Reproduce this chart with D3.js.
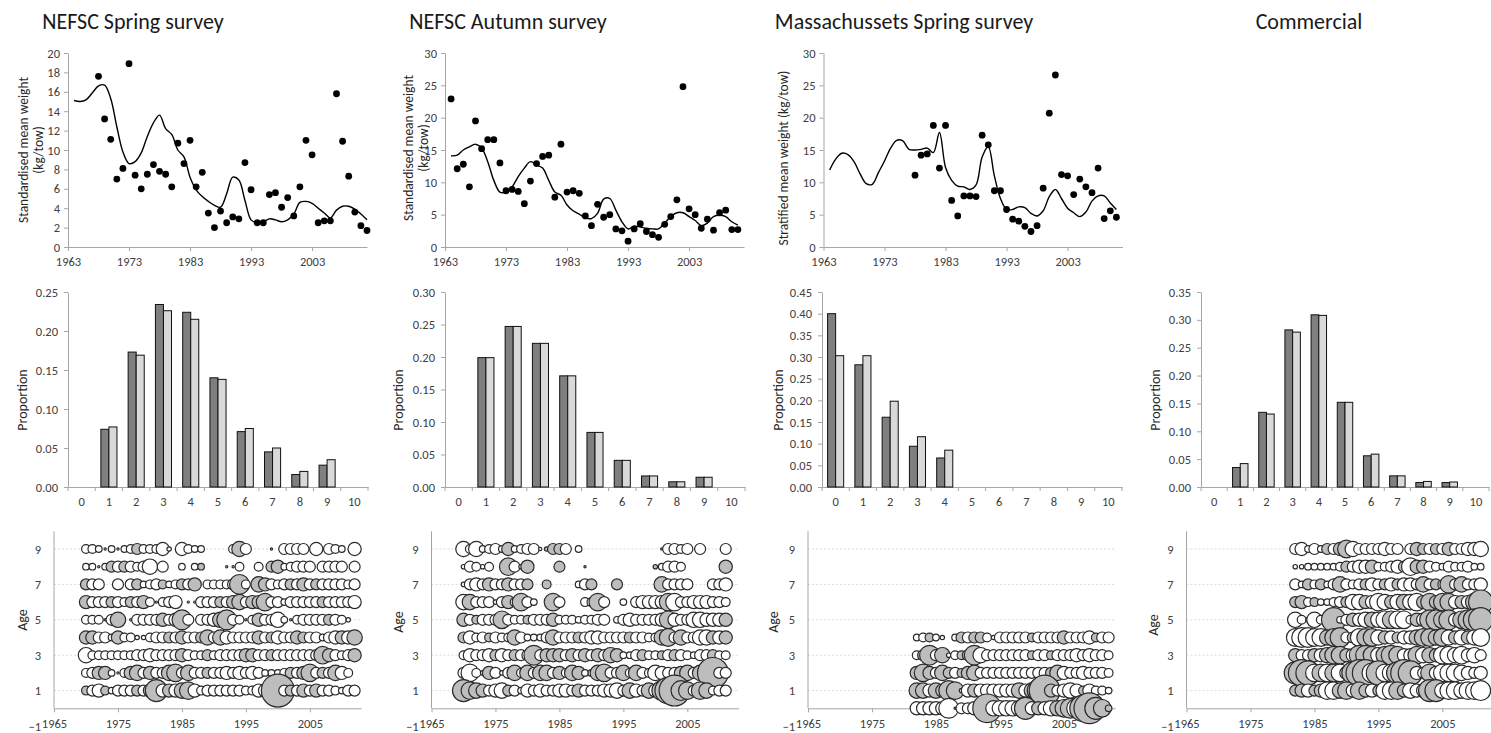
<!DOCTYPE html>
<html><head><meta charset="utf-8">
<script src="https://cdn.jsdelivr.net/npm/d3@7"></script>
<style>body{margin:0;background:#fff}svg text{font-family:Carlito,Lato,'Open Sans',sans-serif}</style>
</head><body><svg id="c" width="1491" height="733"></svg>
<script>
// ---------------- DATA ----------------
const titles = ["NEFSC Spring survey","NEFSC Autumn survey","Massachussets Spring survey","Commercial"];
const topYearTicks = [1963,1973,1983,1993,2003];
const bubbleYearTicks = [1965,1975,1985,1995,2005];
const ageTicks = [-1,1,3,5,7,9];
const barAges = [0,1,2,3,4,5,6,7,8,9,10];

// Top row: survey index points and smoothed line
const springDotStart = 1968;
const springDots = [17.6,13.2,11.1,7.0,8.1,18.9,7.4,6.0,7.5,8.5,7.8,7.5,6.2,10.7,8.6,11.0,6.2,7.7,3.5,2.0,3.7,2.5,3.1,2.9,8.7,5.9,2.5,2.5,5.4,5.6,4.1,5.1,3.2,6.2,11.0,9.5,2.5,2.7,2.7,15.8,10.9,7.3,3.6,2.2,1.7];
const springLineStart = 1964;
const springLine = [15.1,15.0,15.2,15.9,16.6,16.7,15.3,12.4,9.8,8.6,8.8,9.7,11.4,12.8,13.6,12.2,11.6,10.0,9.3,7.2,5.9,5.2,4.7,4.3,4.1,5.5,7.2,6.9,4.8,2.8,2.5,2.6,2.9,2.8,2.6,2.8,3.4,4.6,4.7,4.5,4.0,3.5,3.0,3.8,4.2,4.2,3.9,3.4,2.8];

const autumnDotStart = 1964;
const autumnDots = [22.9,12.1,12.8,9.3,19.5,15.2,16.6,16.6,13.0,8.7,8.9,8.6,6.7,10.2,12.9,14.0,14.2,7.7,15.9,8.5,8.7,8.3,4.8,3.3,6.6,4.6,5.0,2.8,2.5,0.9,2.8,3.6,2.4,1.9,1.5,3.5,4.7,7.3,24.8,5.9,5.0,2.9,4.3,2.6,5.3,5.7,2.7,2.7];
const autumnLineStart = 1964;
const autumnLine = [14.1,14.2,15.0,15.5,15.9,15.3,13.2,10.3,8.5,8.5,9.3,10.9,12.2,13.2,12.7,12.2,10.3,8.5,8.0,6.5,5.6,5.1,4.5,4.4,5.2,7.4,7.5,5.7,3.9,2.8,3.2,3.1,2.9,2.8,2.8,3.7,4.7,5.3,5.3,4.7,4.1,3.3,3.7,4.7,4.9,4.7,3.9,3.4];

const massDotStart = 1978;
const massDots = [11.1,14.2,14.4,18.8,12.2,18.8,7.2,4.8,7.9,7.9,7.8,17.3,15.8,8.7,8.7,5.8,4.3,4.0,3.2,2.4,3.3,9.1,20.7,26.6,11.2,11.0,8.1,10.5,9.3,8.4,12.2,4.4,5.6,4.6];
const massLineStart = 1964;
const massLine = [11.9,13.6,14.5,14.3,13.2,11.3,9.8,9.7,11.5,13.3,15.3,16.5,16.4,15.1,15.0,15.1,15.3,14.6,17.7,12.3,10.3,9.4,9.3,8.9,9.6,13.9,15.5,11.0,7.5,5.8,5.8,6.2,6.1,5.2,4.8,5.6,7.8,8.9,7.5,6.0,5.3,4.7,5.4,7.1,7.9,7.9,6.8,5.8];

// Middle row: proportions at age (observed = dark, predicted = light)
const springObs  = [0,0.074,0.173,0.234,0.224,0.140,0.071,0.045,0.016,0.028,0];
const springPred = [0,0.077,0.169,0.226,0.215,0.138,0.075,0.050,0.020,0.035,0];
const autumnObs  = [0,0.199,0.247,0.221,0.171,0.084,0.041,0.017,0.008,0.015,0];
const autumnPred = [0,0.199,0.247,0.221,0.171,0.084,0.041,0.017,0.008,0.015,0];
const massObs    = [0.400,0.282,0.161,0.094,0.067,0,0,0,0,0,0];
const massPred   = [0.303,0.303,0.198,0.116,0.085,0,0,0,0,0,0];
const commObs    = [0,0.035,0.134,0.282,0.309,0.152,0.056,0.020,0.008,0.008,0];
const commPred   = [0,0.042,0.131,0.278,0.308,0.152,0.059,0.020,0.010,0.009,0];

// Bottom row: residuals by age (rows) and year (columns); + grey, - white
const springResidStart = 1970; // ages 1..9
const springResid = [
 [0.8,-1,-1.2,0.8,-0.6,-1,-1,-1,1,-1,1.2,2,-1.2,1.2,-1.2,1.4,1.6,-1.2,-0.8,-1,-1,-1,-1,-1,-1,-0.8,-0.8,-1.2,-1.2,-1.4,3,-1,1,-1,1.2,-1,1.2,-1,-1,-0.8,-0.6,-1,-1],
 [-0.8,-1,1.2,1.2,-0.6,-0.2,-0.8,1.2,1.4,-1,1.2,-1,-1,1.4,1.6,-1,1.4,-1,-1,1,-1,-1,-1.2,-1,-1.2,-1,-1.2,-1,-0.6,-0.6,-0.6,-0.8,1,-1,1.2,1.6,-1,1,-1,1.4,-1.2,-0.8,0],
 [-1.4,-0.8,-0.8,-0.8,-0.8,-0.8,-0.8,-0.8,-1,-1,-1.2,-1,-1,-1,-1,1.2,-1,-0.8,-0.8,1,-0.8,-1,-1,-1,-1,1.2,1.2,-1,-1,1,-1,-1,-1,-1,-1,-1,-1,1.6,1.2,-1,-0.8,-1,1.2],
 [1.2,1.2,-1,-1,-0.6,1.2,-0.8,-0.8,-0.4,-0.4,-0.8,-1,-1,1,-1,1.2,-1,-1,1,1.4,-1,1.4,-1.2,-1,-1,-1,-1,1.2,-1,1,-1.2,-1,-1,1.2,1,-1,-1,-0.6,-1,-1.2,1.2,-1.2,1.4],
 [-0.8,-0.8,-0.8,-0.2,-1,1.4,0,-0.2,-1,-1,-1,-1,1.2,-1,-1.2,1.8,-1,0,-1,-1,-1.2,1.4,1.8,-1,-0.8,-0.2,-0.8,1.2,-1,-1,-1.4,-0.6,-0.2,-0.8,-1,-1,-1,-1,1,-1,-0.8,-0.4,0],
 [1.2,-1,-1,-1,1,-1,-0.8,1,-1,1.2,-0.8,-0.2,-0.8,-1,-1.2,0,-0.2,-0.2,-1,-1,-1,1,-1,1.2,1.4,-1,1.2,1.2,1.6,-1,-1,-0.6,-1,-1,-1,-1,-1,1,-1,-1,-1,-1,-1.2],
 [1,-1,-1,0,0,-1,0,-1,1,-0.6,-0.8,-1,0.8,-0.6,-0.8,1,-1,1.2,0,-0.8,-0.8,-0.8,-0.8,-1,1.8,-0.8,0,1.4,1.2,-1,-0.8,-1,1,-1,1.2,-1,1,-1,-1,-1,-1,-0.8,-1],
 [-0.6,-0.6,-0.2,-0.6,1,-1,1,-1,-0.8,-1,-1.4,0,-1,0,0,-0.6,0,-0.6,0.6,0,0,0,-0.2,-0.2,-0.8,0,0,-0.8,0,1,1.2,-0.6,-0.8,-1,-1,-1,0,-1,-1,-1,-1,0,-1],
 [-0.8,-0.8,-0.6,-0.2,-0.6,-0.2,-0.6,-0.8,1,-0.8,-0.8,-0.8,-1.2,-0.4,0,-1.2,-0.8,-0.6,-0.6,0,0,0,0,-0.8,1.4,-1,0,0,0,0.2,0,-1,-1,-1,-1,0,-1.2,0,-1,-0.8,-0.6,0,-1.2]
];
const autumnResidStart = 1970; // ages 1..9
const autumnResid = [
 [2,1.6,1.4,1.2,-1,-1.2,-1.4,1,-1,-0.6,-1.2,-1,-1.2,-1,-1,-1.2,-1.2,-1,1.2,-1,-1,-1,-1.2,-1.2,-1.4,-1,1.4,-1.2,-1,1.4,-1.2,1.8,2.4,2.8,1.8,1.6,-1,1.6,1.4,-0.8,-1,-1],
 [-1,-1.6,-0.8,-0.4,1.2,-1,-0.4,-1,1.4,-0.8,1.4,-1,1.4,1.4,-1,1.2,-0.8,1.4,1.2,-0.6,-0.6,1.4,1.6,-1,-1,1.4,-0.8,1.4,-1,-0.8,-1.4,-1.2,-1,-1,1.2,1.4,-1,1.4,-1.2,2.8,-1,-1],
 [-0.8,-1.2,-1,-1,-1.2,1,-1.2,-1,1,-1,-1,1.8,-1,1.2,1.2,1.2,-1,1.2,-1,1.2,-1,1.2,-1,1.4,1.2,-0.6,-0.6,-1,1,-0.8,-0.8,0.8,-1,1,-1,-0.8,-0.6,-1,-1,1,-0.8,-0.8],
 [1,-1.2,-0.8,-1,0.8,-1,-0.8,-0.8,1.4,-1,-0.6,-0.6,-0.6,-1,1.4,-1,-1,-1,1,-1,-1.2,-1.2,-1,-1,-1,-1,1,-1,-1,-0.8,-0.8,1.4,1.6,-1,1.4,-1,-1,-1.4,-1.4,1.2,-1.2,1.2],
 [1.2,-1,0.8,-1,-1,-1,1.6,-1,-0.8,-0.8,0.8,-1,-1,-1,1.2,-0.8,-0.8,-0.8,-0.6,-0.8,-0.8,-1,-1,0,-0.6,-1,-1.2,-1,-1,-1,-1,-1.2,1.6,-1.2,-1,-1,-1.4,-1.4,-1.2,-1.2,-1.2,1.2],
 [-1.4,1.4,-1,-1,-1,-0.4,-1,1.2,-0.8,1.6,-1,-0.6,0,0,1.6,-1,0,0,0,-0.8,-0.8,1.6,-1,0,0,-0.6,0,-1,-1.2,-1.2,-1.2,-1.2,1.6,-1.6,-1,-1,-1.2,-1.2,-1.2,-1,-1,-0.8],
 [-0.4,-1,-1.2,-1,1.2,-1,-1,1.2,-1,-1,1,0,0,0.8,0,0,0,0,-0.6,-1,1,0,0,0,1,0,0,0,0,0,0,1.4,-1,-1,-1,-1,0,0,0,-1,-1,-1.2],
 [-0.4,-1,-0.8,-0.4,-0.8,0,0,1.6,-1,-0.4,1.2,0,0,0,0,1,0,0,0,0.2,0,0,0,0,0,0,0,0,0,0,0.4,-0.6,-1,-1,-0.8,0,0,0,0,0,0,1.2],
 [-1.4,-0.8,-1.4,-0.6,-0.8,-1,-0.6,1.2,-0.6,-0.8,-1,-1,-0.3,0.4,1,1,-1,0,-0.6,0,0,0,0,0,0,0,0,0,0,0,0,0.2,-1,-1,-0.8,-1,0,-1,0,0,0,-1]
];
const massResidStart = 1982; // ages 0..4
const massResid = [
 [-1.2,-1.2,-1.2,-1.2,-1.2,-1.8,0.2,-1,-1,-1.2,-1.2,2.6,-1.4,-1.4,-1.4,-1.4,-1.4,2,-1.2,1.2,-1.2,-1.4,1.4,1.6,1.8,-1.8,2.4,2.8,2,1.6,0.6],
 [1.4,1.4,-1.2,1.4,1.2,1.8,1.6,-0.4,-1.2,1.2,-1.2,-1.2,-1.2,-1.2,-1.2,-1.2,1.4,-1.2,1.4,2,2.8,1.2,-1,-1.2,-1.4,-1.2,0.8,-1.2,-0.8,-0.8,-0.6],
 [1.2,1.6,1.2,-1,1.4,1,-1,0.8,1.2,1.4,-1,-1,-1,-1,-1,-1,-1,-1,-1,-1,-1,1,1.4,-1.2,-1,-1,-1.2,-1,-1,-1,-0.8],
 [-0.8,1,1.8,-1,1.4,-0.4,-0.8,0.8,1,1.8,-1.4,-1,-1,-1,-1,-1,-1,-1,0.8,-1,-1,0.8,-1,-1,-1,-1.2,-1,-1.2,-1,-1,-0.8],
 [-0.6,-0.8,0.8,-0.6,-0.4,0,-0.6,1,-1,1,1,-0.8,-0.4,-1,-1,-1,-1,-1,0.8,-1,-1,-1,-1,1.2,-1,-1,-1,-1.2,0.8,-1,-1]
];
const commResidStart = 1982; // ages 1..9
const commResid = [
 [1,1.2,-1.2,1,1.2,-1.6,-1.6,1.4,1.6,-1.2,1.6,1.2,-1.2,1,-1.6,-1.6,1.6,1.2,-1.4,-1.2,-1.2,2,2,-1.4,-1.6,-1.6,-1.4,-1.6,-1.6,-1.8],
 [2,2.4,2.2,-1.6,1.6,-1.6,1.6,-1.6,-1.2,2,2.4,2.4,-1.8,2.2,-1.6,-1.6,2,2.4,2.2,-1.2,-1,1.6,-1.2,-1.6,-1.6,-1.6,-1.4,-1.2,-1,-1.2],
 [1.2,-1,-1,1.2,-1.2,1.4,1.6,1.6,1.2,-1.2,1.8,1.8,1.6,-1.4,1.6,1.8,1.6,-1.2,-1.2,1.6,-1.4,1.4,1.2,-1.6,-1.6,-1.4,-1.6,-1.2,-1.4,-1],
 [-1.6,-1.8,-1.8,-1.6,-1.6,1.4,1.6,1.8,-1,1,-1.6,1.6,1.6,-1.4,1.2,-1.2,1,-1.2,-1.2,1.4,1.6,1.6,1.4,1.6,-1.4,1.2,-1.4,1.2,-1.4,-1.6],
 [-1.4,-0.8,-0.4,-1.4,-0.8,0,2.2,-0.6,-1,1.2,-1.2,-1.4,1.4,-1.4,-1.6,1.6,-1.6,-1.6,-0.8,1.2,-1.2,1.8,1.8,1.6,1.8,-1.2,1.6,1.8,2,2.2],
 [1,1.2,-0.8,0.8,-0.6,-0.6,-0.8,-1,1,-1.4,-1.4,1.2,-1.2,-1.6,-1.4,1.2,-1.4,1.4,-1.4,-1.6,1.2,1.6,1.2,1.6,1.6,-1.2,1.2,-1.2,1.6,2.2],
 [-1,-0.6,1,-0.8,1,-0.6,-1,1.4,-1,-0.8,-1,1,-1.2,-1,1,-1.2,1,-1.2,-1.2,-1,1.4,-1,1,-0.8,1.6,-1,1.4,-1,-1,-1.2],
 [-0.4,-0.4,-0.6,-0.6,-0.6,-0.6,-0.6,-0.8,1,-1,-1.2,-1.2,1.2,-0.8,-0.8,-1,-1.2,1,-1.6,1.2,1.2,-1,-0.8,-0.6,-1,-0.8,-0.8,-1,-0.6,-0.6],
 [-1,-1.2,-0.6,-1,-0.6,1,-1,1.2,1.6,-1.4,-1,-1,-1,-1,-1.2,-1,-1,0,-1,1.2,1,-1,1,-1,1.2,-1,-1,-1.2,-1.2,-1.4]
];

// ---------------- DRAWING ----------------
const svg = d3.select('#c');
const AXC = '#a6a6a6', TXT = '#404040';
const TICK_FS = 12.5;
function styleAxis(sel, fs) {
  sel.select('.domain').attr('stroke', AXC);
  sel.selectAll('.tick line').attr('stroke', AXC);
  sel.selectAll('.tick text').attr('fill', TXT).style('font-size', fs + 'px');
}
function vLabel(lines, x, y, gap, fs) {
  lines.forEach((t, i) => {
    svg.append('text').attr('transform', `translate(${x + i * gap},${y}) rotate(-90)`)
      .attr('text-anchor', 'middle').attr('dy', '0.35em').attr('fill', '#262626')
      .style('font-size', fs + 'px').text(t);
  });
}

// Titles
[[133,titles[0]],[508,titles[1]],[904,titles[2]],[1309,titles[3]]].forEach(([x,t]) => {
  svg.append('text').attr('x', x).attr('y', 29).attr('text-anchor', 'middle')
    .attr('fill', '#1a1a1a').style('font-size', '22px').text(t);
});

function drawTop(o) {
  const g = svg.append('g');
  const x = d3.scaleLinear([1963, 2012], [o.x0, o.x0 + 299]);
  const y = d3.scaleLinear([0, o.yMax], [247, 53]);
  g.append('g').attr('transform', 'translate(0,247)')
    .call(d3.axisBottom(x).tickValues(topYearTicks).tickFormat(d3.format('d')).tickSize(4).tickPadding(6).tickSizeOuter(0))
    .call(styleAxis, TICK_FS);
  g.append('g').attr('transform', `translate(${o.x0},0)`)
    .call(d3.axisLeft(y).tickValues(d3.range(0, o.yMax + 0.01, o.yStep)).tickSize(4).tickPadding(4).tickSizeOuter(0))
    .call(styleAxis, TICK_FS);
  const line = d3.line().x((d, i) => x(o.lineStart + i)).y(d => y(d)).curve(d3.curveCatmullRom.alpha(0.5));
  g.append('path').datum(o.line).attr('d', line).attr('fill', 'none').attr('stroke', '#000').attr('stroke-width', 1.4);
  g.selectAll('circle').data(o.dots).join('circle')
    .attr('cx', (d, i) => x(o.dotStart + i)).attr('cy', d => y(d)).attr('r', 3.4).attr('fill', '#000');
}
drawTop({x0: 68, yMax: 20, yStep: 2, dots: springDots, dotStart: springDotStart, line: springLine, lineStart: springLineStart});
drawTop({x0: 445, yMax: 30, yStep: 5, dots: autumnDots, dotStart: autumnDotStart, line: autumnLine, lineStart: autumnLineStart});
drawTop({x0: 823.5, yMax: 30, yStep: 5, dots: massDots, dotStart: massDotStart, line: massLine, lineStart: massLineStart});
vLabel(['Standardised mean weight', '(kg/tow)'], 23, 150, 15, 13.5);
vLabel(['Standardised mean weight', '(kg/tow)'], 408, 148, 15, 13.5);
vLabel(['Stratified mean weight (kg/tow)'], 783, 158, 0, 13.5);

function drawBars(o) {
  const g = svg.append('g');
  const x = d3.scaleBand(barAges, [o.x0, o.x0 + o.w]).paddingInner(0.41).paddingOuter(0.205);
  const sub = d3.scaleBand([0, 1], [0, x.bandwidth()]);
  const y = d3.scaleLinear([0, o.yMax], [487, 292]);
  g.append('g').attr('transform', 'translate(0,487)')
    .call(d3.axisBottom(x).tickSize(0).tickPadding(10).tickSizeOuter(0)).call(styleAxis, TICK_FS);
  g.append('g').selectAll('line').data(d3.range(12)).join('line')
    .attr('x1', i => o.x0 + i * x.step()).attr('x2', i => o.x0 + i * x.step())
    .attr('y1', 487).attr('y2', 491).attr('stroke', AXC);
  g.append('g').attr('transform', `translate(${o.x0},0)`)
    .call(d3.axisLeft(y).tickValues(d3.range(0, o.yMax + 0.001, 0.05)).tickFormat(d3.format('.2f')).tickSize(4).tickPadding(6).tickSizeOuter(0))
    .call(styleAxis, TICK_FS);
  [[o.obs, '#7f7f7f', 0], [o.pred, '#d9d9d9', 1]].forEach(([vals, col, k]) => {
    g.append('g').selectAll('rect').data(barAges.filter(a => vals[a] > 0)).join('rect')
      .attr('x', a => x(a) + sub(k)).attr('width', sub.bandwidth())
      .attr('y', a => y(vals[a])).attr('height', a => y(0) - y(vals[a]))
      .attr('fill', col).attr('stroke', '#111').attr('stroke-width', 1);
  });
}
drawBars({x0: 68, w: 300, yMax: 0.25, obs: springObs, pred: springPred});
drawBars({x0: 445, w: 300, yMax: 0.30, obs: autumnObs, pred: autumnPred});
drawBars({x0: 822, w: 300, yMax: 0.45, obs: massObs, pred: massPred});
drawBars({x0: 1201, w: 288, yMax: 0.35, obs: commObs, pred: commPred});
vLabel(['Proportion'], 22, 400, 0, 14);
vLabel(['Proportion'], 398, 400, 0, 14);
vLabel(['Proportion'], 778, 400, 0, 14);
vLabel(['Proportion'], 1155, 400, 0, 14);

const rScale = d3.scaleLinear([0, 3], [0, 16.5]);
function drawBubbles(o) {
  const g = svg.append('g');
  const x = d3.scaleLinear([1965, 2013], [o.x0, o.x0 + 307]);
  const y = d3.scaleLinear([-1, 10], [726, 531.3]);
  g.append('g').selectAll('line').data([1, 3, 5, 7, 9]).join('line')
    .attr('x1', o.x0).attr('x2', o.x0 + 307).attr('y1', d => y(d)).attr('y2', d => y(d))
    .attr('stroke', '#dadada').attr('stroke-dasharray', '2,2');
  g.append('g').attr('transform', `translate(0,${y(0)})`)
    .call(d3.axisBottom(x).tickValues(bubbleYearTicks).tickFormat(d3.format('d')).tickSize(4).tickPadding(7).tickSizeOuter(0))
    .call(styleAxis, TICK_FS);
  const ya = g.append('g').attr('transform', `translate(${o.x0},0)`)
    .call(d3.axisLeft(y).tickValues(ageTicks).tickFormat(d3.format('d')).tickSize(0).tickPadding(13).tickSizeOuter(0))
    .call(styleAxis, TICK_FS);
  ya.select('.domain').remove();
  g.append('line').attr('x1', o.x0).attr('x2', o.x0).attr('y1', y(10)).attr('y2', y(0)).attr('stroke', AXC);
  const pts = [];
  for (let r = o.resid.length - 1; r >= 0; r--) {
    o.resid[r].forEach((v, i) => { if (v !== 0) pts.push({age: o.age0 + r, year: o.start + i, v}); });
  }
  g.append('g').selectAll('circle').data(pts).join('circle')
    .attr('cx', d => x(d.year)).attr('cy', d => y(d.age)).attr('r', d => rScale(Math.abs(d.v)))
    .attr('fill', d => d.v > 0 ? '#bdbdbd' : '#ffffff').attr('stroke', '#2a2a2a').attr('stroke-width', 1.2);
}
drawBubbles({x0: 54, resid: springResid, start: springResidStart, age0: 1});
drawBubbles({x0: 431.5, resid: autumnResid, start: autumnResidStart, age0: 1});
drawBubbles({x0: 808, resid: massResid, start: massResidStart, age0: 0});
drawBubbles({x0: 1186.5, resid: commResid, start: commResidStart, age0: 1});
vLabel(['Age'], 22, 620, 0, 14);
vLabel(['Age'], 398, 622, 0, 14);
vLabel(['Age'], 773, 622, 0, 14);
vLabel(['Age'], 1153, 625, 0, 14);
</script></body></html>
